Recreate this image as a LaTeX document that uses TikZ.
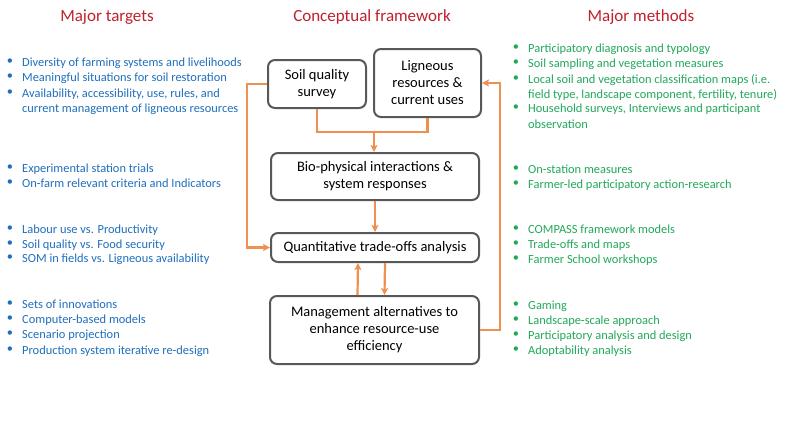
\documentclass[tikz,border=0pt]{standalone}
\usepackage{fontspec}
\setmainfont{Carlito}
\usepackage{tikz}
\usetikzlibrary{positioning,arrows.meta}
\definecolor{cfRed}{RGB}{192,32,46}
\definecolor{cfBlue}{RGB}{31,111,190}
\definecolor{cfGreen}{RGB}{34,168,90}
\definecolor{cfOrange}{RGB}{238,145,80}
\definecolor{cfGray}{RGB}{88,88,88}

\begin{document}
\begin{tikzpicture}[x=1pt,y=-1pt,
  box/.style={draw=cfGray, line width=2pt, rounded corners=7pt, align=center, inner sep=0pt,
    font=\fontsize{14.5}{17}\selectfont},
  flow/.style={cfOrange, line width=2.2pt, -{Stealth[length=7pt,width=7pt,inset=1.5pt]}},
  link/.style={cfOrange, line width=2.2pt},
  heading/.style={cfRed, font=\fontsize{17}{20}\selectfont},
  item/.style={anchor=west, inner sep=0pt, text height=10pt, text depth=2pt,
    font=\fontsize{12.4}{15}\selectfont},
  dot/.style={inner sep=0pt, font=\fontsize{12.4}{15}\selectfont}]
  \fill[white] (0,0) rectangle (800,440);
  \useasboundingbox (0,0) rectangle (800,440);

  % Column headings
  \node[heading] (hTargets) at (107,17) {Major targets};
  \node[heading] (hFrame) at (372,17) {Conceptual framework};
  \node[heading] (hMethods) at (641,17) {Major methods};

  % Framework boxes
  \node[box, minimum width=98pt, minimum height=48pt] (soil) at (317,84) {Soil quality\\survey};
  \node[box, minimum width=107pt, minimum height=68pt] (ligneous) at (427.5,83) {Ligneous\\resources \&\\current uses};
  \node[box, minimum width=208pt, minimum height=47pt] (bio) at (375,176.5) {Bio-physical interactions \&\\system responses};
  \node[box, minimum width=208pt, minimum height=29pt] (tradeoff) at (375,247.5) {Quantitative trade-offs analysis};
  \node[box, minimum width=209pt, minimum height=68pt] (manage) at (374.5,330) {Management alternatives to\\enhance resource-use\\efficiency};

  % Connectors
  \coordinate (join) at (374,132);
  \draw[link] (soil.south) |- (join) -| (ligneous.south);
  \draw[flow] (join) -- (join |- bio.north);
  \draw[flow] (bio.south) -- (tradeoff.north);
  \draw[flow] (soil.west) -- ++(-20,0) |- (tradeoff.west);
  \draw[flow] ([xshift=-17pt]manage.north) -- ([xshift=-17pt]tradeoff.south);
  \draw[flow] ([xshift=10pt]tradeoff.south) -- ([xshift=10pt]manage.north);
  \draw[flow] (manage.east) -- ++(20,0) |- (ligneous.east);

  % Major targets
  \foreach \y/\b/\txt [count=\i] in {
      62/1/{Diversity of farming systems and livelihoods},
      77/1/{Meaningful situations for soil restoration},
      93/1/{Availability, accessibility, use, rules, and},
      108/0/{current management of ligneous resources},
      168/1/{Experimental station trials},
      183/1/{On-farm relevant criteria and Indicators},
      229/1/{Labour use vs. Productivity},
      244/1/{Soil quality vs. Food security},
      258/1/{SOM in fields vs. Ligneous availability},
      304/1/{Sets of innovations},
      319/1/{Computer-based models},
      334/1/{Scenario projection},
      350/1/{Production system iterative re-design}} {
    \node[item, cfBlue] (tg\i) at (22,\y) {\txt};
    \ifnum\b=1 \node[dot, cfBlue] (tgdot\i) at (10,\y) {\textbullet}; \fi
  }

  % Major methods
  \foreach \y/\b/\txt [count=\i] in {
      48/1/{Participatory diagnosis and typology},
      63/1/{Soil sampling and vegetation measures},
      79/1/{Local soil and vegetation classification maps (i.e.},
      94/0/{field type, landscape component, fertility, tenure)},
      108/1/{Household surveys, Interviews and participant},
      124/0/{observation},
      169/1/{On-station measures},
      184/1/{Farmer-led participatory action-research},
      229/1/{COMPASS framework models},
      244/1/{Trade-offs and maps},
      259/1/{Farmer School workshops},
      305/1/{Gaming},
      320/1/{Landscape-scale approach},
      335/1/{Participatory analysis and design},
      350/1/{Adoptability analysis}} {
    \node[item, cfGreen] (mt\i) at (528,\y) {\txt};
    \ifnum\b=1 \node[dot, cfGreen] (mtdot\i) at (516,\y) {\textbullet}; \fi
  }
\end{tikzpicture}
\end{document}
